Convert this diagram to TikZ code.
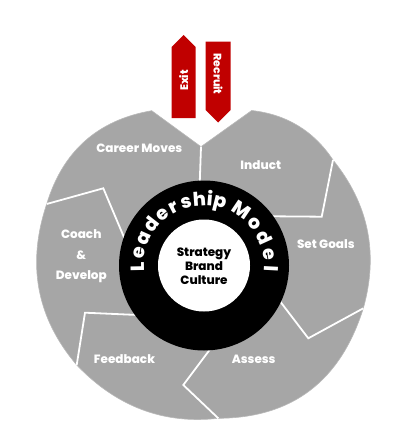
\documentclass[tikz,border=0pt]{standalone}
\usepackage{fontspec}
\setmainfont{Poppins}[BoldFont={Poppins ExtraBold}]
\definecolor{arrowred}{HTML}{C00000}
\definecolor{seggrey}{HTML}{A6A6A6}
\begin{document}
\begin{tikzpicture}[x=1pt,y=-1pt,
  seglabel/.style={text=white,font=\bfseries\fontsize{12}{13}\selectfont,align=center,inner sep=0pt},
  arrowlabel/.style={text=white,font=\bfseries\fontsize{11}{12}\selectfont,inner sep=0pt},
  corelabel/.style={text=black,font=\bfseries\fontsize{12}{14.2}\selectfont,align=center,inner sep=0pt},
  ringletter/.style={text=white,font=\bfseries\fontsize{19}{20}\selectfont,inner sep=0pt},
  wline/.style={draw=white,line width=1.8pt,line join=miter}]
\useasboundingbox (0,0) rectangle (410,433);

% red arrows
\fill[arrowred] (171.7,118) -- (195.5,118) -- (195.5,47) -- (183.6,35) -- (171.7,47) -- cycle;
\fill[arrowred] (205.5,41.7) -- (230.7,41.7) -- (230.7,110) -- (218.1,122.5) -- (205.5,110) -- cycle;
\node[arrowlabel,rotate=90] (exit) at (183.6,80.5) {Exit};
\node[arrowlabel,rotate=-90] (recruit) at (218.1,74) {Recruit};

% grey disk
\path[fill=seggrey,draw=gray!55,line width=0.6pt]
  (201,146.7) -- (251.7,110.5)
  .. controls (286.2,114.4) and (313.5,130.6) .. (333,160)
  .. controls (368.63,204.03) and (378.73,253.47) .. (363.3,308.3)
  .. controls (340.43,381.23) and (292.1,417.9) .. (218.3,418.3)
  .. controls (163.77,424.47) and (116.57,406.7) .. (76.7,365)
  .. controls (36.17,317.33) and (26.7,263.67) .. (46.7,204)
  .. controls (62.77,151.1) and (97.77,120) .. (151.7,110.7)
  -- cycle;

% white segment boundaries
\draw[wline] (201,146.7) -- (199.3,195);
\draw[wline] (333,160) -- (321.7,216.7) -- (262,216.2);
\draw[wline] (363.3,308.3) -- (308.3,338.3) -- (276,296);
\draw[wline] (218.3,418.3) -- (183.3,385) -- (214,344);
\draw[wline] (76.7,365) -- (85,312.7) -- (145,315.3);
\draw[wline] (46.7,204) -- (103.3,188.3) -- (126,242);

% central rings
\fill[black] (204,265.5) circle[radius=85];
\fill[white] (204,265.5) circle[radius=46];

% ring text
\foreach \ch/\a [count=\i] in {L/181, e/169, a/156, d/142, e/129, r/117.5, s/106, h/94, i/85, p/76, M/56, o/40, d/24.5, e/9.5, l/-3}
  \node[ringletter,rotate=\a-90,anchor=base] (rl\i) at ({204+60*cos(\a)},{265.5-60*sin(\a)}) {\ch};

% labels
\node[seglabel] (career) at (139.3,148.3) {Career Moves};
\node[seglabel] (induct) at (260.8,165) {Induct};
\node[seglabel] (setgoals) at (325.8,244.3) {Set Goals};
\node[seglabel] (coach) at (81.3,234.3) {Coach};
\node[seglabel] (amp) at (81.3,255.5) {\&};
\node[seglabel] (develop) at (81.3,276.7) {Develop};
\node[seglabel] (feedback) at (124.5,359) {Feedback};
\node[seglabel] (assess) at (253.7,359) {Assess};
\node[corelabel] (core) at (204,266) {Strategy\\Brand\\Culture};
\end{tikzpicture}
\end{document}
